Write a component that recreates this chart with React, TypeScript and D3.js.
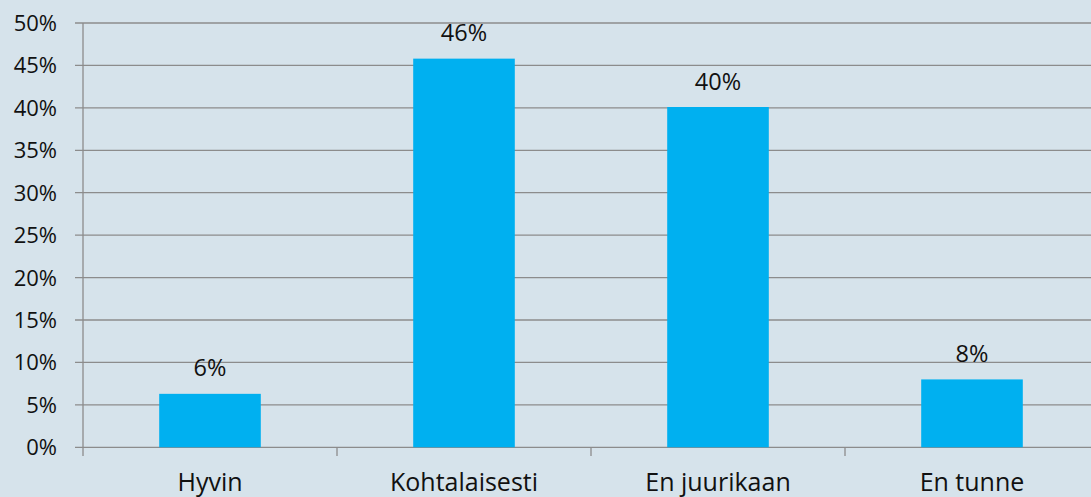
import React from "react";
import * as d3 from "d3";

const categories = ["Hyvin", "Kohtalaisesti", "En juurikaan", "En tunne"];
const values = [6.3, 45.8, 40.1, 8.0];
const valueLabels = ["6%", "46%", "40%", "8%"];
const yTicks = [0, 5, 10, 15, 20, 25, 30, 35, 40, 45, 50];

const W = 1091;
const H = 497;
const FONT = "'Open Sans', sans-serif";

export default function App() {
  const x = d3
    .scaleBand<string>()
    .domain(categories)
    .range([83, 1099])
    .paddingInner(0.6)
    .paddingOuter(0.3);
  const y = d3.scaleLinear().domain([0, 50]).range([447.3, 23]);
  const step = x.step();
  const bounds = categories.map((_, i) => 83 + i * step);

  return (
    <svg
      width={W}
      height={H}
      style={{ position: "absolute", left: 0, top: 0, background: "#d6e3eb" }}
    >
      <rect x={0} y={0} width={W} height={H} fill="#d6e3eb" />
      {yTicks.map((t) => (
        <g key={t}>
          <line x1={75} x2={W} y1={y(t)} y2={y(t)} stroke="#8c8c8c" strokeWidth={1.3} />
          <text
            x={57}
            y={y(t)}
            dy="0.36em"
            textAnchor="end"
            fontFamily={FONT}
            fontSize={22}
            fill="#111"
          >
            {t}%
          </text>
        </g>
      ))}
      <line x1={83} x2={83} y1={y(50)} y2={456} stroke="#8c8c8c" strokeWidth={1.3} />
      {bounds.slice(1).map((b) => (
        <line key={b} x1={b} x2={b} y1={y(0)} y2={456} stroke="#8c8c8c" strokeWidth={1.3} />
      ))}
      {categories.map((c, i) => (
        <g key={c}>
          <rect
            x={x(c)}
            y={y(values[i])}
            width={x.bandwidth()}
            height={y(0) - y(values[i])}
            fill="#00b0f0"
          />
          <text
            x={(x(c) as number) + x.bandwidth() / 2}
            y={y(values[i]) - 17.5}
            textAnchor="middle"
            fontFamily={FONT}
            fontSize={23.5}
            fill="#111"
          >
            {valueLabels[i]}
          </text>
          <text
            x={(x(c) as number) + x.bandwidth() / 2}
            y={491}
            textAnchor="middle"
            fontFamily={FONT}
            fontSize={25}
            fill="#111"
          >
            {c}
          </text>
        </g>
      ))}
    </svg>
  );
}
